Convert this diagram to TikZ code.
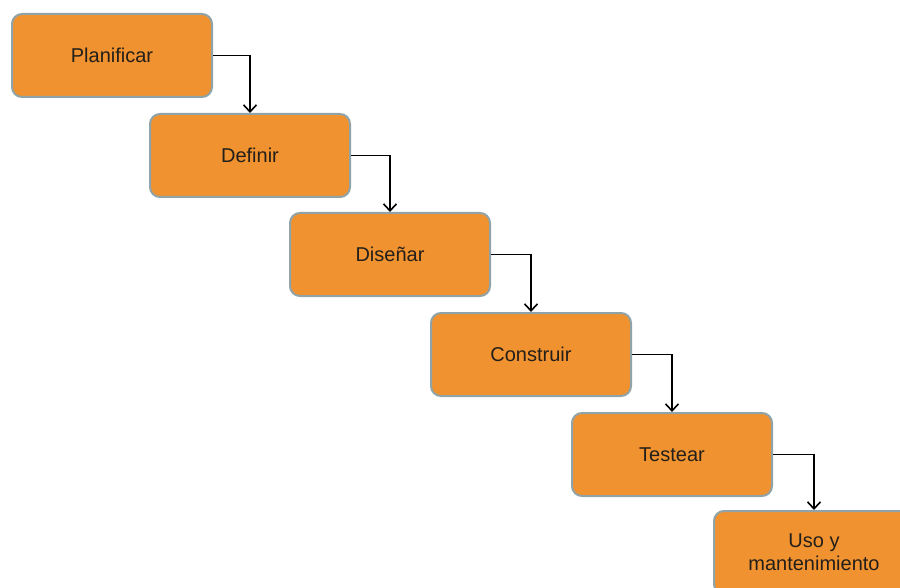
\documentclass[tikz,border=0pt]{standalone}
\usepackage{fontspec}
\setmainfont{Liberation Sans}
\usetikzlibrary{arrows.meta}
\definecolor{stepfill}{HTML}{F0922F}
\definecolor{stepline}{HTML}{8FA3A8}
\definecolor{steptext}{HTML}{231F1A}
\tikzset{
  x=1pt, y=-1pt,
  stepbox/.style={draw=stepline, line width=2pt, fill=stepfill, rounded corners=10pt,
    minimum width=200pt, minimum height=83pt, inner sep=0pt, anchor=north west,
    font=\fontsize{20}{23}\selectfont, text=steptext, align=center},
  flow/.style={draw=black, line width=1.6pt, -{Straight Barb[length=7pt,width=13pt,line width=1.6pt]}}
}
\begin{document}
\begin{tikzpicture}
\useasboundingbox (0,0) rectangle (900,588);
\clip (0,0) rectangle (900,588);
\fill[white] (0,0) rectangle (900,588);
\node[stepbox] (p) at (11,13) {Planificar};
\node[stepbox] (d) at (149,113) {Definir};
\node[stepbox] (s) at (289,212) {Diseñar};
\node[stepbox] (c) at (430,312) {Construir};
\node[stepbox] (t) at (571,412) {Testear};
\node[stepbox] (u) at (713,510) {Uso y\\mantenimiento};
\draw[flow] (p.east) -| (d.north);
\draw[flow] (d.east) -| (s.north);
\draw[flow] (s.east) -| (c.north);
\draw[flow] (c.east) -| (t.north);
\draw[flow] (t.east) -| (u.north);
\end{tikzpicture}
\end{document}
